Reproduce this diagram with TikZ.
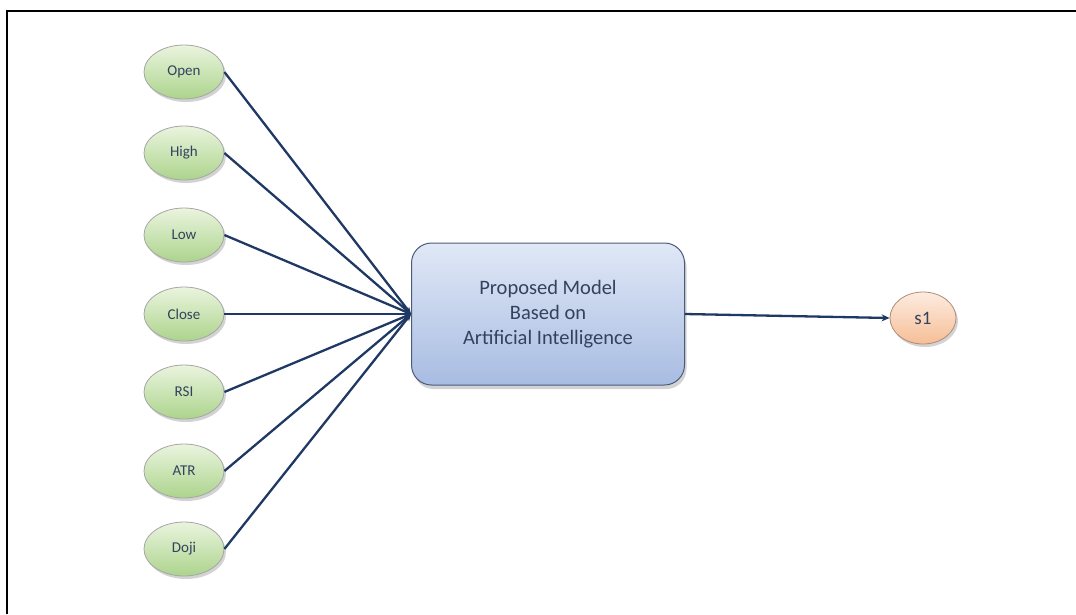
\documentclass[tikz,border=0pt]{standalone}
\usepackage{fontspec}
\setmainfont{Carlito}
\usetikzlibrary{shapes.geometric,shadows,arrows.meta}
\definecolor{linec}{HTML}{1F3864}
\definecolor{txtc}{HTML}{34425E}
\tikzset{
  inp/.style={ellipse, draw=gray!70, line width=0.8pt, minimum width=80pt, minimum height=54pt,
    top color={rgb,255:red,234;green,244;blue,222}, bottom color={rgb,255:red,172;green,212;blue,140},
    drop shadow={opacity=0.35, shadow xshift=2pt, shadow yshift=-3pt},
    text=txtc, font=\fontsize{15}{17}\selectfont, inner sep=0pt},
  model/.style={rounded corners=20pt, draw={rgb,255:red,75;green,90;blue,125}, line width=1pt,
    minimum width=273pt, minimum height=142pt,
    top color={rgb,255:red,224;green,232;blue,246}, bottom color={rgb,255:red,168;green,188;blue,226},
    drop shadow={opacity=0.35, shadow xshift=2pt, shadow yshift=-4pt},
    text=txtc, font=\fontsize{20.5}{25}\selectfont, align=center},
  outp/.style={ellipse, draw={rgb,255:red,175;green,140;blue,120}, line width=0.8pt, minimum width=66pt, minimum height=52pt,
    top color={rgb,255:red,253;green,236;blue,224}, bottom color={rgb,255:red,246;green,190;blue,150},
    drop shadow={opacity=0.35, shadow xshift=2pt, shadow yshift=-3pt},
    text=txtc, font=\fontsize{19}{21}\selectfont, inner sep=0pt},
  conn/.style={draw=linec, line width=2.3pt},
}
\begin{document}
\begin{tikzpicture}[x=1pt,y=-1pt]
\useasboundingbox (0,0) rectangle (1076,614);
\draw[line width=2pt] (7,614) -- (7,10.5) -- (1076,10.5);
\node[inp] (open)  at (184,72)  {Open};
\node[inp] (high)  at (184,153) {High};
\node[inp] (low)   at (184,235) {Low};
\node[inp] (close) at (184,314) {Close};
\node[inp] (rsi)   at (184,392) {RSI};
\node[inp] (atr)   at (184,471) {ATR};
\node[inp] (doji)  at (184,549) {Doji};
\node[model] (model) at (548,314) {Proposed Model\\Based on\\Artificial Intelligence};
\node[outp] (s1) at (923,318) {s1};
\foreach \n in {open,high,low,close,rsi,atr,doji}
  \draw[conn, -{Stealth[length=7pt,width=6pt]}] (\n.east) -- (model.west);
\draw[conn, -{Stealth[length=8pt,width=7pt]}] (model.east) -- (s1.west);
\end{tikzpicture}
\end{document}
